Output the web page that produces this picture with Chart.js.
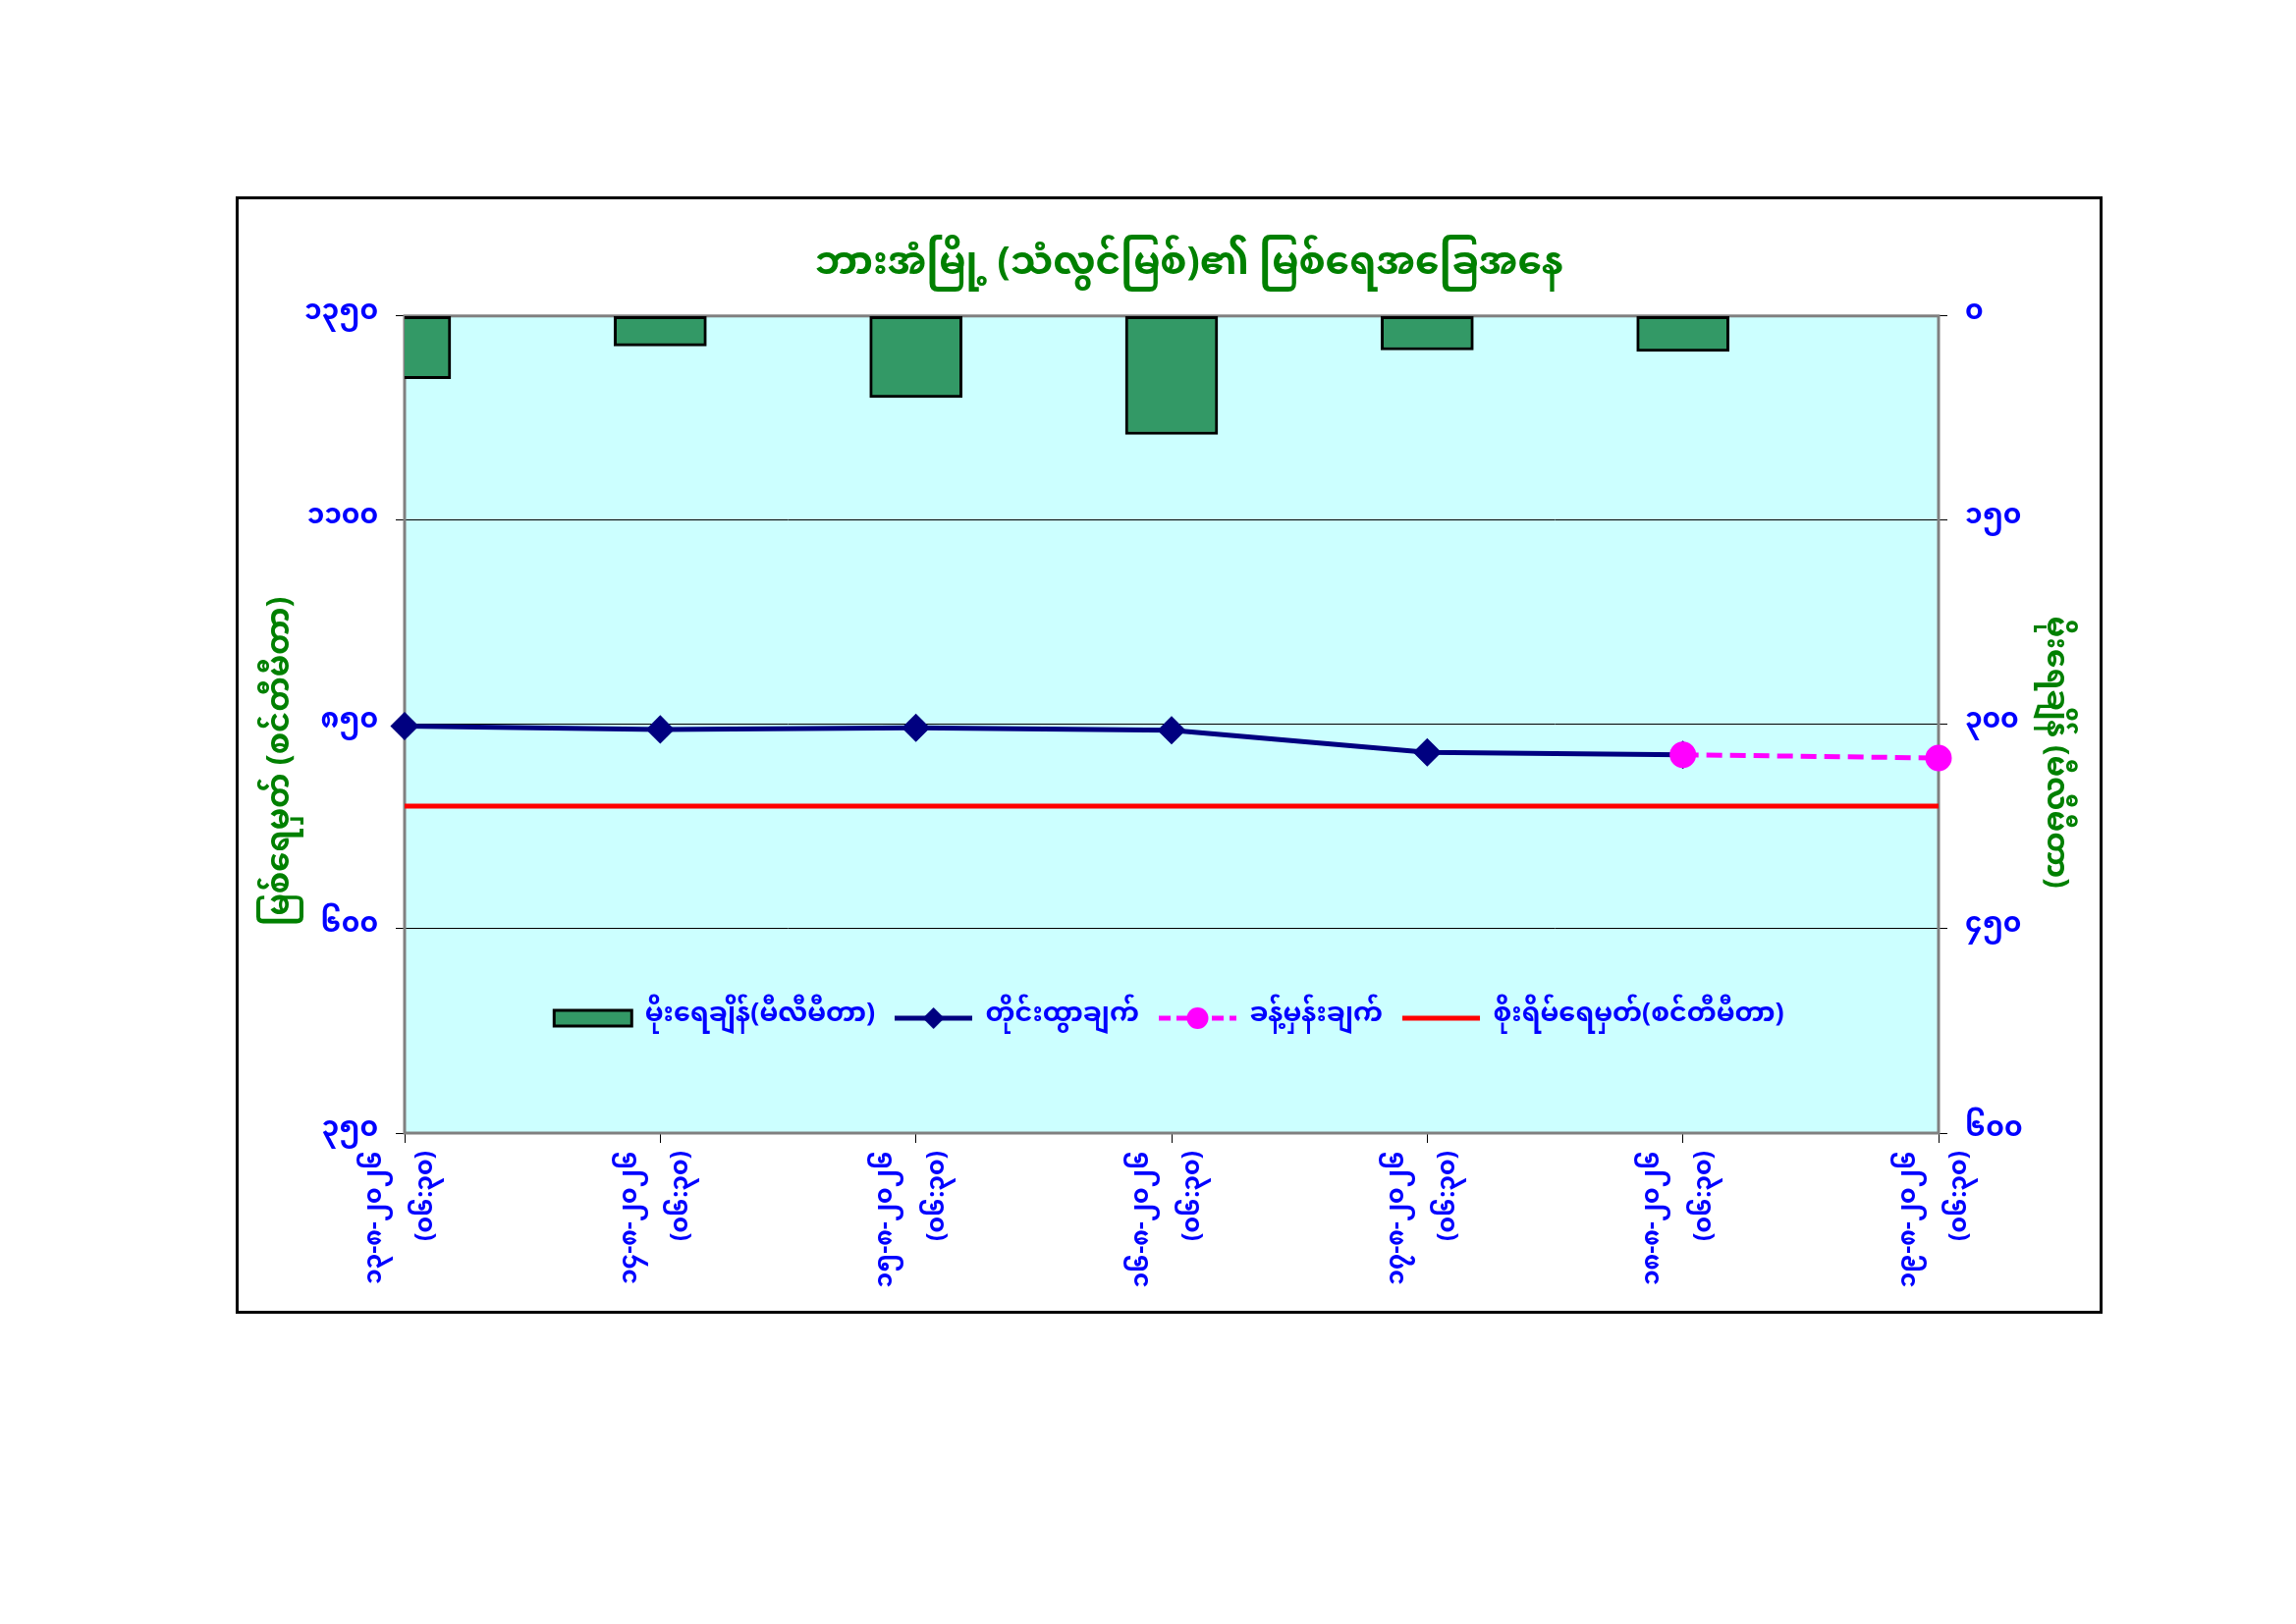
<!DOCTYPE html>
<html>
<head>
<meta charset="utf-8">
<script src="https://cdn.jsdelivr.net/npm/chart.js@4/dist/chart.umd.min.js"></script>
<style>
  html, body { margin: 0; padding: 0; background: #fff; }
  body { width: 2338px; height: 1654px; position: relative; }
  #box { position: absolute; left: 240px; top: 200px; width: 1895px; height: 1132px; border: 3px solid #000; background: #fff; }
  canvas { display: block; }
</style>
</head>
<body>
<div id="box"><canvas id="myChart" width="1895" height="1132"></canvas></div>
<script>
// ရက်စွဲ / အချိန်
const dates = ['၁၃-၈-၂၀၂၆', '၁၄-၈-၂၀၂၆', '၁၅-၈-၂၀၂၆', '၁၆-၈-၂၀၂၆', '၁၇-၈-၂၀၂၆', '၁၈-၈-၂၀၂၆', '၁၉-၈-၂၀၂၆'];
const times = ['(၀၆:၃၀)', '(၀၆:၃၀)', '(၀၆:၃၀)', '(၀၆:၃၀)', '(၀၆:၃၀)', '(၀၆:၃၀)', '(၀၆:၃၀)'];

// မိုးရေချိန် (မီလီမီတာ)
const rainfall = [46, 22, 60, 87, 25, 26, null];
// တိုင်းထွာချက် (စင်တီမီတာ)
const observed = [848, 844, 846, 843, 816, 813, null];
// ခန့်မှန်းချက်
const forecast = [null, null, null, null, null, 813, 809];
// စိုးရိမ်ရေမှတ်
const dangerLevel = [750, 750, 750, 750, 750, 750, 750];

const levelTicks = [350, 600, 850, 1100, 1350];
const rainTicks = [0, 150, 300, 450, 600];

const mmFont = "'Noto Sans Myanmar', 'Padauk', 'Myanmar Text', 'Noto Sans', sans-serif";
const mmDigits = '၀၁၂၃၄၅၆၇၈၉';
const sp = '\u00A0';

function toMM(n) {
    return String(n).replace(/[0-9]/g, function(d) { return mmDigits[d]; });
}

let labels = dates.map(function(d, i) { return [d, times[i]]; });

// small legend icons: line with its marker in the middle
function legendIcon(color, dash, marker) {
    let c = document.createElement('canvas');
    c.width = 79;
    c.height = 26;
    let g = c.getContext('2d');
    g.strokeStyle = color;
    g.fillStyle = color;
    g.lineWidth = 5;
    g.setLineDash(dash);
    g.beginPath();
    g.moveTo(0, 13);
    g.lineTo(79, 13);
    g.stroke();
    g.setLineDash([]);
    if (marker === 'diamond') {
        g.beginPath();
        g.moveTo(39.5, 2);
        g.lineTo(50.5, 13);
        g.lineTo(39.5, 24);
        g.lineTo(28.5, 13);
        g.closePath();
        g.fill();
    } else if (marker === 'circle') {
        g.beginPath();
        g.arc(39.5, 13, 11, 0, Math.PI * 2);
        g.fill();
    }
    return c;
}

const legendIcons = [
    'rect',
    legendIcon('#000080', [], 'diamond'),
    legendIcon('#FF00FF', [12, 6], 'circle'),
    legendIcon('#FF0000', [], null)
];

// plot area background and border
const plotBack = {
    id: 'plotBack',
    beforeDraw(chart) {
        const a = chart.chartArea;
        const ctx = chart.ctx;
        ctx.save();
        ctx.fillStyle = '#CCFFFF';
        ctx.fillRect(a.left, a.top, a.right - a.left, a.bottom - a.top);
        ctx.restore();
    },
    beforeDatasetsDraw(chart) {
        const a = chart.chartArea;
        const ctx = chart.ctx;
        ctx.save();
        ctx.strokeStyle = '#808080';
        ctx.lineWidth = 3;
        ctx.strokeRect(a.left, a.top, a.right - a.left, a.bottom - a.top);
        ctx.restore();
    }
};

// legend sits inside the plot area
const legendInside = {
    id: 'legendInside',
    afterLayout(chart) {
        const lg = chart.legend;
        if (!lg) return;
        const h = lg.bottom - lg.top;
        lg.top = 834 - 20 - 13.5;
        lg.bottom = lg.top + h;
    }
};

let ctx = document.getElementById('myChart').getContext('2d');
new Chart(ctx, {
    type: 'bar',
    data: {
        labels: labels,
        datasets: [{
            type: 'bar',
            label: 'မိုးရေချိန်(မီလီမီတာ)',
            data: rainfall,
            yAxisID: 'y1',
            backgroundColor: '#339966',
            borderColor: '#000000',
            borderWidth: 3,
            borderSkipped: false,
            barThickness: 94,
            order: 4
        }, {
            type: 'line',
            label: 'တိုင်းထွာချက်',
            data: observed,
            yAxisID: 'y',
            borderColor: '#000080',
            backgroundColor: '#000080',
            borderWidth: 5,
            pointStyle: 'rectRot',
            pointRadius: 11,
            tension: 0,
            order: 2
        }, {
            type: 'line',
            label: 'ခန့်မှန်းချက်',
            data: forecast,
            yAxisID: 'y',
            borderColor: '#FF00FF',
            backgroundColor: '#FF00FF',
            borderWidth: 5,
            borderDash: [16, 8],
            pointStyle: 'circle',
            pointRadius: 11,
            tension: 0,
            order: 1
        }, {
            type: 'line',
            label: 'စိုးရိမ်ရေမှတ်(စင်တီမီတာ)',
            data: dangerLevel,
            yAxisID: 'y',
            borderColor: '#FF0000',
            backgroundColor: '#FF0000',
            borderWidth: 5,
            pointRadius: 0,
            tension: 0,
            order: 3
        }]
    },
    options: {
        responsive: false,
        animation: false,
        devicePixelRatio: 1,
        events: [],
        layout: { padding: { left: 0, right: 0, top: 0, bottom: -57 } },
        plugins: {
            title: {
                display: true,
                text: sp + sp + sp + sp + 'ဘားအံမြို့ (သံလွင်မြစ်)၏ မြစ်ရေအခြေအနေ',
                color: '#008000',
                font: { family: mmFont, size: 39, weight: 'bold' },
                padding: { top: 48, bottom: 24 }
            },
            legend: {
                position: 'bottom',
                labels: {
                    color: '#0000FF',
                    font: { family: mmFont, size: 27, weight: 'bold' },
                    usePointStyle: true,
                    pointStyleWidth: 79,
                    boxHeight: 16,
                    padding: 20,
                    generateLabels(chart) {
                        let items = Chart.defaults.plugins.legend.labels.generateLabels(chart);
                        items.sort(function(a, b) { return a.datasetIndex - b.datasetIndex; });
                        items.forEach(function(it) {
                            it.pointStyle = legendIcons[it.datasetIndex];
                        });
                        return items;
                    }
                }
            },
            tooltip: { enabled: false }
        },
        scales: {
            x: {
                offset: false,
                grid: { display: true, offset: false, drawOnChartArea: false, color: '#000', tickColor: '#000', tickLength: 10 },
                border: { display: false },
                ticks: {
                    color: '#0000FF',
                    font: { family: mmFont, size: 25, weight: 'bold', lineHeight: 2.1 },
                    minRotation: 90,
                    maxRotation: 90,
                    autoSkip: false,
                    padding: 8,
                    labelOffset: -27
                },
                afterFit(s) {
                    const lh = s.chart.legend ? s.chart.legend.height : 57;
                    s.height = 181 - lh + 57;
                }
            },
            y: {
                position: 'left',
                min: 350,
                max: 1350,
                afterBuildTicks(s) {
                    s.ticks = levelTicks.map(function(v) { return { value: v }; });
                },
                grid: { color: '#000', lineWidth: 1, tickColor: '#000', tickLength: 9 },
                border: { display: false },
                ticks: {
                    color: '#0000FF',
                    font: { family: mmFont, size: 28, weight: 'bold' },
                    padding: 18,
                    callback: function(v) { return toMM(v); }
                },
                title: {
                    display: true,
                    text: 'မြစ်ရေမှတ် (စင်တီမီတာ)' + sp.repeat(9),
                    color: '#008000',
                    font: { family: mmFont, size: 32, weight: 'bold' },
                    padding: { top: 28, bottom: 0 }
                },
                afterFit(s) { s.width = 169; }
            },
            y1: {
                position: 'right',
                reverse: true,
                min: 0,
                max: 600,
                afterBuildTicks(s) {
                    s.ticks = rainTicks.map(function(v) { return { value: v }; });
                },
                grid: { drawOnChartArea: false, color: '#000', tickColor: '#000', tickLength: 9 },
                border: { display: false },
                ticks: {
                    color: '#0000FF',
                    font: { family: mmFont, size: 28, weight: 'bold' },
                    padding: 18,
                    callback: function(v) { return toMM(v); }
                },
                title: {
                    display: true,
                    text: sp.repeat(7) + 'မိုးရေချိန် (မီလီမီတာ)',
                    color: '#008000',
                    font: { family: mmFont, size: 31, weight: 'bold' },
                    padding: { top: 31, bottom: 0 }
                },
                afterFit(s) { s.width = 164; }
            }
        }
    },
    plugins: [plotBack, legendInside]
});
</script>
</body>
</html>
